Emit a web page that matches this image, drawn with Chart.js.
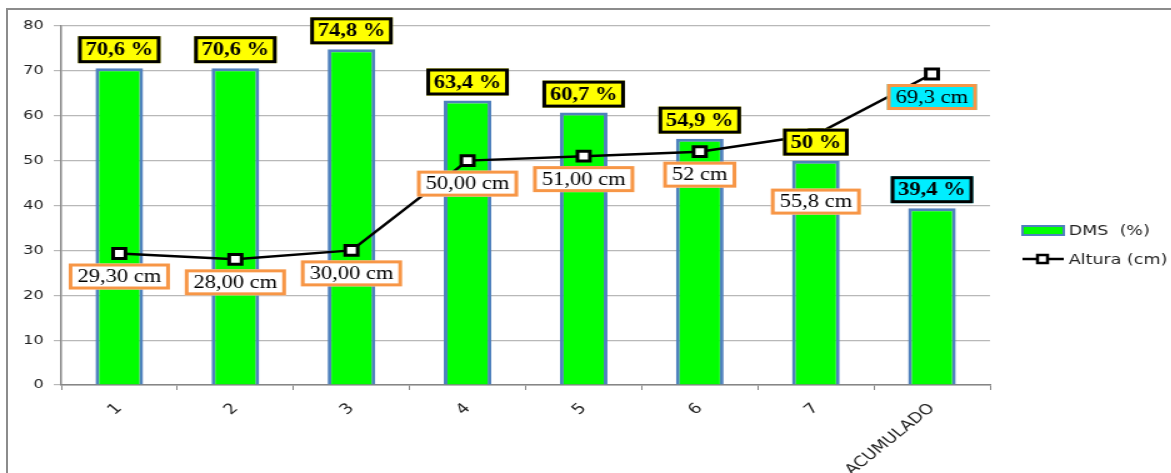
<!DOCTYPE html>
<html>
<head>
<meta charset="utf-8">
<script src="https://cdn.jsdelivr.net/npm/chart.js@4.4.1/dist/chart.umd.min.js"></script>
<style>
html, body { margin: 0; padding: 0; background: #fff; overflow: hidden; }
#frame { position: absolute; left: 6px; top: 8px; width: 1200px; height: 500px; border-left: 2px solid #8c8c8c; border-top: 2px solid #8c8c8c; }
/* the source picture is stretched sideways, so the chart is drawn narrow and scaled */
#wrap { position: absolute; left: 0; top: 0; width: 937px; height: 473px; transform: scaleX(1.25); transform-origin: 0 0; }
</style>
</head>
<body>
<div id="frame"></div>
<div id="wrap"><canvas id="myChart" width="937" height="473"></canvas></div>
<script>
// Data
var categories = ['1', '2', '3', '4', '5', '6', '7', 'ACUMULADO'];
var dmsValues = [70.6, 70.6, 74.8, 63.4, 60.7, 54.9, 50, 39.4];
var alturaValues = [29.3, 28, 30, 50, 51, 52, 55.8, 69.3];
var dmsLabels = ['70,6 %', '70,6 %', '74,8 %', '63,4 %', '60,7 %', '54,9 %', '50 %', '39,4 %'];
var alturaLabels = ['29,30 cm', '28,00 cm', '30,00 cm', '50,00 cm', '51,00 cm', '52 cm', '55,8 cm', '69,3 cm'];
var yTicks = [0, 10, 20, 30, 40, 50, 60, 70, 80];

// label styling
var alturaGap = [10, 10, 10, 10, 10, 10, 54, 10];
var YELLOW = '#ffff00';
var CYAN = '#00eeff';

function drawBox(ctx, cx, top, text, font, fill, stroke, padX, h) {
    ctx.font = font;
    var w = ctx.measureText(text).width + 2 * padX;
    ctx.fillStyle = fill;
    ctx.fillRect(cx - w / 2, top, w, h);
    ctx.lineWidth = 3;
    ctx.strokeStyle = stroke;
    ctx.strokeRect(cx - w / 2 + 1.5, top + 1.5, w - 3, h - 3);
    ctx.fillStyle = '#000';
    ctx.textAlign = 'center';
    ctx.textBaseline = 'middle';
    ctx.fillText(text, cx, top + h / 2 + 1);
}

var boxLabels = {
    id: 'boxLabels',
    afterDatasetsDraw: function(chart) {
        var ctx = chart.ctx;
        ctx.save();
        var lineMeta = chart.getDatasetMeta(1);
        lineMeta.data.forEach(function(pt, i) {
            var fill = i === categories.length - 1 ? CYAN : '#ffffff';
            drawBox(ctx, pt.x, pt.y + alturaGap[i], alturaLabels[i], '18px "Liberation Serif"', fill, '#f79646', 7, 26);
        });
        var barMeta = chart.getDatasetMeta(0);
        barMeta.data.forEach(function(bar, i) {
            var fill = i === categories.length - 1 ? CYAN : YELLOW;
            drawBox(ctx, bar.x, bar.y - 5 - 27, dmsLabels[i], 'bold 18px "Liberation Serif"', fill, '#000000', 6, 27);
        });
        ctx.restore();
    }
};

var sideLegend = {
    id: 'sideLegend',
    afterDraw: function(chart) {
        var ctx = chart.ctx;
        ctx.save();
        ctx.fillStyle = '#00ff00';
        ctx.fillRect(818, 226, 33, 9);
        ctx.lineWidth = 2;
        ctx.strokeStyle = '#4f81bd';
        ctx.strokeRect(818, 226, 33, 9);
        ctx.strokeStyle = '#000';
        ctx.lineWidth = 2.5;
        ctx.beginPath();
        ctx.moveTo(818, 259);
        ctx.lineTo(851, 259);
        ctx.stroke();
        ctx.fillStyle = '#fff';
        ctx.fillRect(830, 255, 8, 8);
        ctx.strokeRect(830, 255, 8, 8);
        ctx.fillStyle = '#222';
        ctx.font = '14px "DejaVu Sans"';
        ctx.textAlign = 'left';
        ctx.textBaseline = 'middle';
        ctx.fillText('DMS  (%)', 855, 231);
        ctx.fillText('Altura (cm)', 855, 260);
        ctx.restore();
    }
};

var ctx = document.getElementById('myChart').getContext('2d');
var myChart = new Chart(ctx, {
    type: 'bar',
    data: {
        labels: categories,
        datasets: [{
            type: 'bar',
            label: 'DMS  (%)',
            data: dmsValues,
            backgroundColor: '#00ff00',
            borderColor: '#4f81bd',
            borderWidth: 3,
            barPercentage: 0.41,
            categoryPercentage: 1,
            order: 2
        }, {
            type: 'line',
            label: 'Altura (cm)',
            data: alturaValues,
            borderColor: '#000000',
            borderWidth: 2.5,
            tension: 0,
            pointStyle: 'rect',
            pointRadius: 7,
            pointBorderWidth: 3,
            pointBackgroundColor: '#ffffff',
            pointBorderColor: '#000000',
            order: 1
        }]
    },
    options: {
        responsive: false,
        animation: false,
        layout: {
            padding: { top: 26, right: 145, left: 0, bottom: 0 }
        },
        plugins: {
            legend: { display: false },
            tooltip: { enabled: false }
        },
        scales: {
            x: {
                grid: { drawOnChartArea: false, drawTicks: true, tickLength: 5, color: '#868686', offset: true },
                border: { color: '#868686', width: 1.5 },
                ticks: {
                    minRotation: 45,
                    maxRotation: 45,
                    color: '#222',
                    font: { family: 'DejaVu Sans', size: 14.5 },
                    padding: 10
                },
                afterFit: function(scale) { scale.height = 88; }
            },
            y: {
                min: 0,
                max: 80,
                afterBuildTicks: function(scale) {
                    scale.ticks = yTicks.map(function(v) { return { value: v }; });
                },
                grid: { color: '#b8b8b8', lineWidth: 1.2, tickLength: 6 },
                border: { color: '#868686', width: 1.5 },
                ticks: {
                    color: '#222',
                    font: { family: 'DejaVu Sans', size: 13 },
                    padding: 8
                },
                afterFit: function(scale) { scale.width = 49; }
            }
        }
    },
    plugins: [boxLabels, sideLegend]
});
</script>
</body>
</html>
